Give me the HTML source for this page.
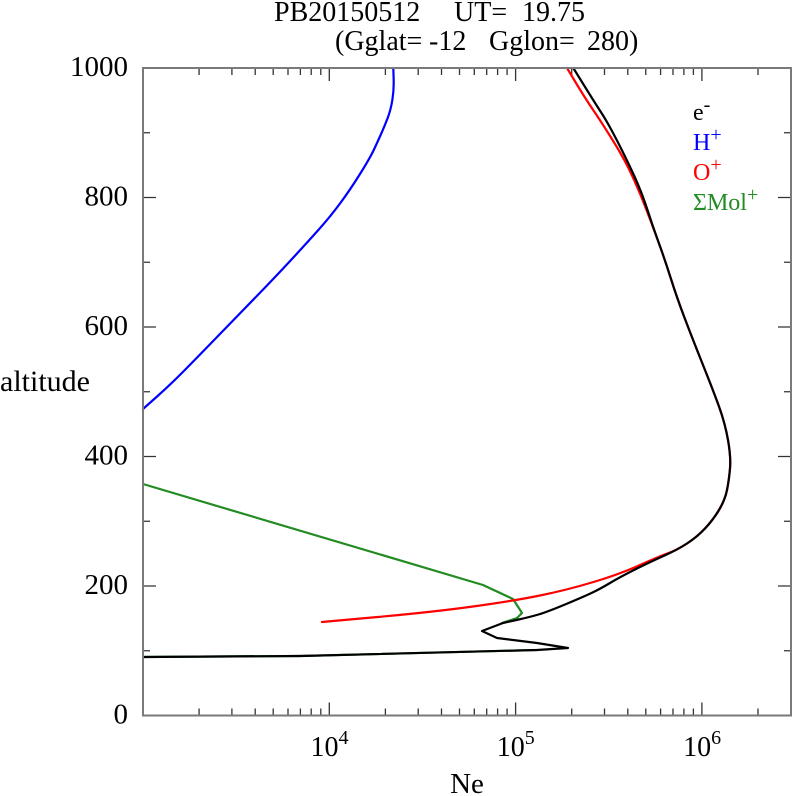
<!DOCTYPE html>
<html>
<head>
<meta charset="utf-8">
<style>
  html, body { margin: 0; padding: 0; background: #ffffff; }
  svg { display: block; }
  text { font-family: "Liberation Serif", "DejaVu Serif", serif; fill: #000; }
</style>
</head>
<body>
<svg width="792" height="796" viewBox="0 0 792 796" xmlns="http://www.w3.org/2000/svg">
  <rect x="0" y="0" width="792" height="796" fill="#ffffff"/>

  <!-- Title -->
  <text x="274" y="21" font-size="28">PB20150512</text>
  <text x="454" y="21" font-size="28">UT=</text>
  <text x="522" y="21" font-size="28">19.75</text>
  <text x="335" y="50" font-size="28">(Gglat=</text>
  <text x="429" y="50" font-size="28">-12</text>
  <text x="489" y="50" font-size="28">Gglon=</text>
  <text x="587" y="50" font-size="28">280)</text>

  <!-- Ticks -->
  <g stroke="#333" stroke-width="1.3" fill="none">
    <path d="M199.1 715.5v-7 M231.9 715.5v-7 M255.2 715.5v-7 M273.2 715.5v-7 M288.0 715.5v-7 M300.4 715.5v-7 M311.2 715.5v-7 M320.8 715.5v-7 M329.3 715.5v-13
             M385.4 715.5v-7 M418.2 715.5v-7 M441.5 715.5v-7 M459.5 715.5v-7 M474.3 715.5v-7 M486.7 715.5v-7 M497.6 715.5v-7 M507.1 715.5v-7 M515.6 715.5v-13
             M571.7 715.5v-7 M604.5 715.5v-7 M627.8 715.5v-7 M645.8 715.5v-7 M660.6 715.5v-7 M673.0 715.5v-7 M683.9 715.5v-7 M693.4 715.5v-7 M701.9 715.5v-13
             M758.0 715.5v-7"/>
    <path d="M199.1 68v7 M231.9 68v7 M255.2 68v7 M273.2 68v7 M288.0 68v7 M300.4 68v7 M311.2 68v7 M320.8 68v7 M329.3 68v13
             M385.4 68v7 M418.2 68v7 M441.5 68v7 M459.5 68v7 M474.3 68v7 M486.7 68v7 M497.6 68v7 M507.1 68v7 M515.6 68v13
             M571.7 68v7 M604.5 68v7 M627.8 68v7 M645.8 68v7 M660.6 68v7 M673.0 68v7 M683.9 68v7 M693.4 68v7 M701.9 68v13
             M758.0 68v7"/>
    <path d="M143 650.75h7 M143 586h13 M143 521.25h7 M143 456.5h13 M143 391.75h7 M143 327h13 M143 262.25h7 M143 197.5h13 M143 132.75h7"/>
    <path d="M791 650.75h-7 M791 586h-13 M791 521.25h-7 M791 456.5h-13 M791 391.75h-7 M791 327h-13 M791 262.25h-7 M791 197.5h-13 M791 132.75h-7"/>
  </g>

  <!-- Curves -->
  <g fill="none" stroke-width="2.2" stroke-linejoin="round" stroke-linecap="round">
    <!-- H+ blue -->
    <path stroke="#0000ff" d="M393.3,68 L393.65,79 Q394,90 392.35,100 Q390.7,110 387.85,117.5 Q385,125 381.5,133 Q378,141 374,149.5 Q370,158 360,174 Q350,190 340,203.5 Q330,217 318.35,230 Q306.7,243 293.35,257.5 Q280,272 266.5,286 Q253,300 239.85,313.5 Q226.7,327 211.7,342.5 Q196.7,358 183.35,371.5 Q170,385 156.5,397 L143,409"/>
    <!-- Sum Mol+ green -->
    <polyline stroke="#228b22" points="143,484 483,585 513,599 522,613 517,618 502,623"/>
    <polyline stroke="#228b22" points="143,657 300,656 537,650"/>
    <!-- O+ red -->
    <path stroke="#ff0000" d="M567,68 L576,83 Q585,98 593.5,110.5 Q602,123 613.5,141.5 Q625,160 632.5,176.5 Q640,193 646.5,210 Q653,227 659,243.5 Q665,260 671,279 Q677,298 685,319 Q693,340 703,365 Q713,390 719,406.5 Q725,423 728,440 Q731,457 730,468.5 Q729,480 727,490 Q725,500 719,510 Q713,520 705,528.5 Q697,537 687,543.5 Q677,550 668.5,553 Q660,556 640,565 Q620,574 593.5,582 Q567,590 540,595.5 Q513,601 473,606.5 Q433,612 377.5,617 L322,622"/>
    <!-- e- black -->
    <path stroke="#000000" d="M573.3,68 L584.15,85.5 Q595,103 601.5,113 Q608,123 617.5,141.5 Q627,160 634.5,176.5 Q642,193 647.5,210 Q653,227 659,243.5 Q665,260 671,279 Q677,298 685,319 Q693,340 703,365 Q713,390 719,406.5 Q725,423 728,440 Q731,457 730,468.5 Q729,480 727,490 Q725,500 719,510 Q713,520 705,528.5 Q697,537 687,543.5 Q677,550 663.5,556 Q650,562 635,569.5 Q620,577 610,583 Q600,589 591.5,593 Q583,597 565,604.5 Q547,612 538.5,614.5 Q530,617 516.5,620 L503,623 L482,631 L497,638 L537,643 L568,648 L537,650 L300,656 L143,657"/>
  </g>

  <!-- Axis frame -->
  <rect x="143" y="68" width="648" height="647.5" fill="none" stroke="#7a7a7a" stroke-width="2"/>

  <!-- Y tick labels -->
  <g font-size="29" text-anchor="end">
    <text x="128" y="76">1000</text>
    <text x="128" y="205.5">800</text>
    <text x="128" y="335">600</text>
    <text x="128" y="464.5">400</text>
    <text x="128" y="594">200</text>
    <text x="128" y="723.5">0</text>
  </g>

  <!-- X tick labels -->
  <g font-size="28" text-anchor="middle">
    <text x="329.5" y="756">10<tspan dy="-12" font-size="20">4</tspan></text>
    <text x="515.8" y="756">10<tspan dy="-12" font-size="20">5</tspan></text>
    <text x="702.1" y="756">10<tspan dy="-12" font-size="20">6</tspan></text>
  </g>

  <!-- Axis labels -->
  <text x="467" y="793" font-size="29" text-anchor="middle">Ne</text>
  <text x="0" y="391" font-size="30">altitude</text>

  <!-- Legend -->
  <g font-size="24">
    <text x="693" y="120" style="fill:#000000">e<tspan dy="-9" font-size="20">-</tspan></text>
    <text x="693" y="150" style="fill:#0000ff">H<tspan dy="-9" font-size="20">+</tspan></text>
    <text x="693" y="180" style="fill:#ff0000">O<tspan dy="-9" font-size="20">+</tspan></text>
    <text x="693" y="210" style="fill:#228b22">ΣMol<tspan dy="-9" font-size="20">+</tspan></text>
  </g>
</svg>
</body>
</html>
